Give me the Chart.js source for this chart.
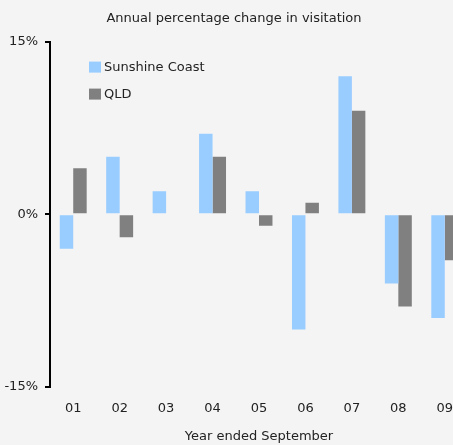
<!DOCTYPE html>
<html>
<head>
<meta charset="utf-8">
<script src="https://cdn.jsdelivr.net/npm/chart.js@4"></script>
<style>
  html, body { margin: 0; padding: 0; background: #f4f4f4; overflow: hidden; }
  #wrap { width: 453px; height: 445px; overflow: hidden; }
</style>
</head>
<body>
<div id="wrap"><canvas id="chart" width="468" height="445"></canvas></div>
<script>
// chart data
const years = ['01', '02', '03', '04', '05', '06', '07', '08', '09'];
const sunshineCoast = [-3, 5, 2, 7, 2, -10, 12, -6, -9];
const qld = [4, -2, 0, 5, -1, 1, 9, -8, -4];
const yTicks = [-15, 0, 15];

const FONT = 'DejaVu Sans';

// legend drawn inside the plot, top left
const innerLegend = {
    id: 'innerLegend',
    afterDraw(chart) {
        const ctx = chart.ctx;
        const area = chart.chartArea;
        ctx.save();
        ctx.font = '13px "' + FONT + '"';
        ctx.textBaseline = 'middle';
        chart.data.datasets.forEach((ds, i) => {
            const x = area.left + 39;
            const y = area.top + 25 + i * 27;
            ctx.fillStyle = ds.backgroundColor;
            ctx.fillRect(x, y - 5, 12, 11);
            ctx.fillStyle = '#222';
            ctx.fillText(ds.label, x + 15, y + 1);
        });
        ctx.restore();
    }
};

new Chart(document.getElementById('chart'), {
    type: 'bar',
    data: {
        labels: years,
        datasets: [
            { label: 'Sunshine Coast', data: sunshineCoast, backgroundColor: '#99ccff' },
            { label: 'QLD', data: qld, backgroundColor: '#808080' }
        ]
    },
    options: {
        responsive: false,
        animation: false,
        layout: { padding: 0 },
        datasets: {
            bar: {
                barPercentage: 1,
                categoryPercentage: 0.58,
                borderWidth: 0,
                borderSkipped: false,
                inflateAmount: 0
            }
        },
        plugins: {
            legend: { display: false },
            tooltip: { enabled: false },
            title: {
                display: true,
                text: 'Annual percentage change in visitation',
                color: '#222',
                font: { family: FONT, size: 13, weight: 'normal' },
                padding: { top: 11, bottom: 15 }
            }
        },
        scales: {
            x: {
                grid: { display: false },
                border: { display: false },
                ticks: { color: '#222', font: { family: FONT, size: 13 }, padding: 6, maxRotation: 0 },
                title: {
                    display: true,
                    text: 'Year ended September',
                    color: '#222',
                    font: { family: FONT, size: 13 },
                    padding: { top: 0, bottom: 1 }
                },
                afterFit: s => { s.height = 58; }
            },
            y: {
                min: -15,
                max: 15,
                afterBuildTicks: s => { s.ticks = yTicks.map(v => ({ value: v })); },
                grid: { drawOnChartArea: false, drawTicks: true, tickLength: 5, color: '#000', lineWidth: 2 },
                border: { display: true, color: '#000', width: 2 },
                ticks: {
                    color: '#222',
                    font: { family: FONT, size: 13 },
                    padding: 7,
                    callback: v => v + '%'
                },
                afterFit: s => { s.width = 50; }
            }
        }
    },
    plugins: [innerLegend]
});
</script>
</body>
</html>
